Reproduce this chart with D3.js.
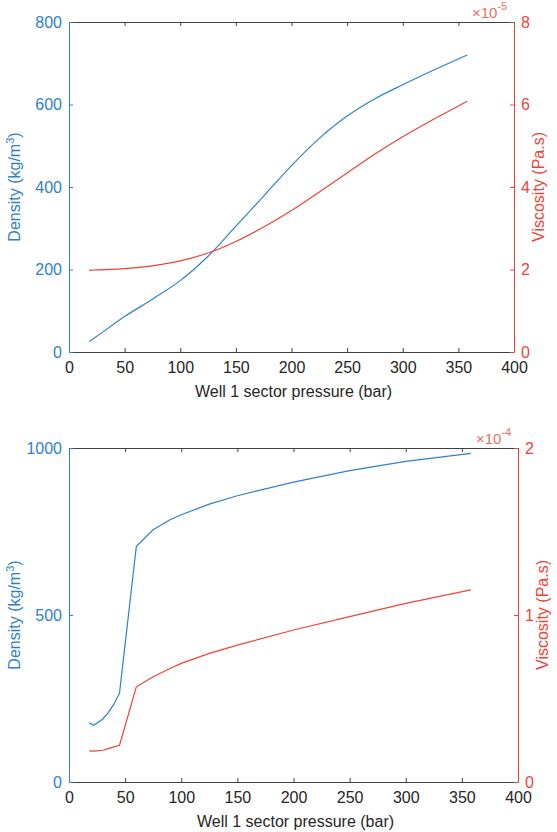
<!DOCTYPE html>
<html><head><meta charset="utf-8">
<script src="https://cdn.jsdelivr.net/npm/d3@7"></script>
<style>body{margin:0;background:#fff}svg{display:block}text{font-family:"Liberation Sans",Arial,sans-serif}</style>
</head><body><svg id="c" width="557" height="832"></svg>
<script>
// Top chart (×1e-5 viscosity)
const topPressure = [18, 25, 50, 75, 100, 125, 150, 175, 200, 225, 250, 275, 300, 325, 358];
const topDensity  = [25, 38, 86, 128, 173, 232, 305, 378, 452, 518, 572, 614, 648, 680, 720];
const topViscosity= [1.98, 1.99, 2.02, 2.09, 2.21, 2.40, 2.68, 3.03, 3.43, 3.88, 4.34, 4.80, 5.22, 5.60, 6.08];
// Bottom chart (×1e-4 viscosity)
const botPressure = [18, 22, 30, 35, 40, 45, 60, 75, 90, 100, 125, 150, 200, 250, 300, 358];
const botDensity  = [177, 170, 188, 208, 233, 266, 706, 755, 785, 800, 832, 857, 898, 932, 960, 984];
const botViscosity= [0.186, 0.185, 0.19, 0.20, 0.21, 0.22, 0.57, 0.63, 0.68, 0.71, 0.77, 0.82, 0.91, 0.99, 1.07, 1.15];

const xTicks = [0,50,100,150,200,250,300,350,400];
const topLeftTicks = [0,200,400,600,800];
const topRightTicks = [0,2,4,6,8];
const botLeftTicks = [0,500,1000];
const botRightTicks = [0,1,2];

const BLUE = "#2f80c8", RED = "#ee4436", AX = "#404040";
const svg = d3.select("#c");
const fmt = d3.format("d");

function panel(cfg){
  const g = svg.append("g");
  const x = d3.scaleLinear().domain([0,400]).range([cfg.x0, cfg.x1]);
  const yL = d3.scaleLinear().domain(cfg.lDom).range([cfg.y1, cfg.y0]);
  const yR = d3.scaleLinear().domain(cfg.rDom).range([cfg.y1, cfg.y0]);
  const bx = g.append("g").attr("transform",`translate(0,${cfg.y1})`)
    .call(d3.axisBottom(x).tickValues(xTicks).tickFormat(fmt).tickSize(-4).tickPadding(10).tickSizeOuter(0));
  bx.select(".domain").attr("stroke",AX);
  bx.selectAll("line").attr("stroke",AX);
  bx.selectAll("text").attr("fill","#262626").attr("font-size",16);
  const tx = g.append("g").attr("transform",`translate(0,${cfg.y0})`)
    .call(d3.axisTop(x).tickValues(xTicks).tickSize(-4).tickFormat("").tickSizeOuter(0));
  tx.select(".domain").attr("stroke",AX);
  tx.selectAll("line").attr("stroke",AX);
  const la = g.append("g").attr("transform",`translate(${cfg.x0},0)`)
    .call(d3.axisLeft(yL).tickValues(cfg.lTicks).tickFormat(fmt).tickSize(-4).tickPadding(7).tickSizeOuter(0));
  la.select(".domain").attr("stroke",BLUE);
  la.selectAll("line").attr("stroke",BLUE);
  la.selectAll("text").attr("fill",BLUE).attr("font-size",16);
  const ra = g.append("g").attr("transform",`translate(${cfg.x1},0)`)
    .call(d3.axisRight(yR).tickValues(cfg.rTicks).tickFormat(fmt).tickSize(-4).tickPadding(7).tickSizeOuter(0));
  ra.select(".domain").attr("stroke",RED);
  ra.selectAll("line").attr("stroke",RED);
  ra.selectAll("text").attr("fill",RED).attr("font-size",16);
  const curve = cfg.smooth ? d3.curveCatmullRom : d3.curveLinear;
  const lb = d3.line().x((d,i)=>x(cfg.p[i])).y(d=>yL(d)).curve(curve);
  const lr = d3.line().x((d,i)=>x(cfg.p[i])).y(d=>yR(d)).curve(curve);
  g.append("path").attr("d",lb(cfg.dens)).attr("fill","none").attr("stroke",BLUE).attr("stroke-width",1.2);
  g.append("path").attr("d",lr(cfg.visc)).attr("fill","none").attr("stroke",RED).attr("stroke-width",1.2);
  g.append("text").attr("x",(cfg.x0+cfg.x1)/2+2).attr("y",cfg.y1+45).attr("text-anchor","middle")
    .attr("font-size",16).attr("fill","#262626").text("Well 1 sector pressure (bar)");
  const ly = g.append("text").attr("transform",`translate(20,${(cfg.y0+cfg.y1)/2}) rotate(-90)`)
    .attr("text-anchor","middle").attr("font-size",16).attr("fill",BLUE);
  ly.append("tspan").text("Density (kg/m");
  ly.append("tspan").attr("dy",-6).attr("font-size",11).text("3");
  ly.append("tspan").attr("dy",6).text(")");
  g.append("text").attr("transform",`translate(${cfg.x1+30},${(cfg.y0+cfg.y1)/2}) rotate(-90)`)
    .attr("text-anchor","middle").attr("font-size",16).attr("fill",RED).text("Viscosity (Pa.s)");
  const ex = g.append("text").attr("x",cfg.x1-42).attr("y",cfg.y0-4).attr("font-size",15).attr("fill","#e8705f");
  ex.append("tspan").text("×10");
  ex.append("tspan").attr("dy",-8).attr("font-size",11).text(cfg.exp);
}

panel({x0:69,x1:514,y0:22,y1:352,lDom:[0,800],rDom:[0,8],lTicks:topLeftTicks,rTicks:topRightTicks,
  p:topPressure,dens:topDensity,visc:topViscosity,smooth:true,exp:"-5"});
panel({x0:69,x1:518,y0:448,y1:782,lDom:[0,1000],rDom:[0,2],lTicks:botLeftTicks,rTicks:botRightTicks,
  p:botPressure,dens:botDensity,visc:botViscosity,smooth:false,exp:"-4"});
</script></body></html>
